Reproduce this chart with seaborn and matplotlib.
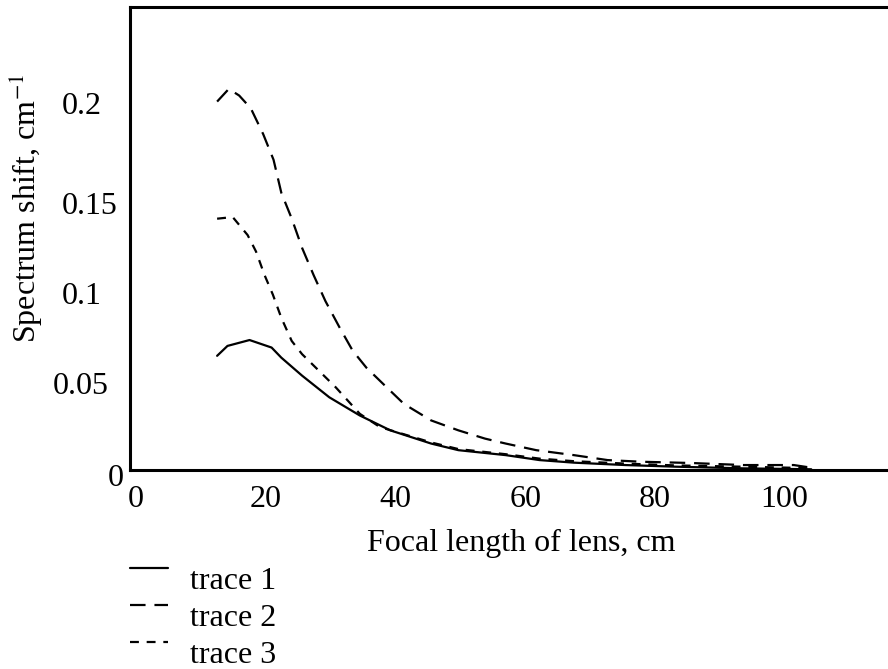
import matplotlib
matplotlib.use("Agg")
import matplotlib.pyplot as plt
import matplotlib.transforms as mtransforms
import seaborn as sns
import pandas as pd

# ---- data ----
x_t1 = [12.5, 14.1, 17.5, 20.9, 22.4, 25.6, 29.8, 34.5, 39.2, 45.5, 49.7, 57.0, 62.2, 67.5, 75.4, 83.2, 93.6, 104.1]
y_t1 = [0.0622, 0.0676, 0.0708, 0.0667, 0.0612, 0.0514, 0.0396, 0.0297, 0.0216, 0.0144, 0.0108, 0.0081, 0.0054, 0.0040, 0.0027, 0.0018, 0.0009, 0.0004]

x_t2 = [12.5, 14.3, 15.9, 17.7, 19.6, 21.2, 22.4, 24.0, 25.6, 27.4, 29.2, 31.4, 33.4, 35.5, 38.1, 41.3, 45.5, 49.7, 53.8, 57.0, 61.7, 67.5, 72.7, 77.9, 85.7, 93.6, 101.4, 104.4]
y_t2 = [0.2007, 0.2076, 0.2040, 0.1970, 0.1830, 0.1690, 0.1510, 0.1370, 0.1210, 0.1060, 0.0920, 0.0775, 0.0650, 0.0558, 0.0469, 0.0360, 0.0270, 0.0216, 0.0171, 0.0144, 0.0108, 0.0081, 0.0054, 0.0045, 0.0038, 0.0027, 0.0027, 0.0011]

x_t3 = [12.5, 14.9, 17.2, 18.5, 19.8, 21.1, 22.4, 24.0, 25.6, 27.7, 30.8, 34.5, 37.6, 45.5, 49.7, 57.0, 62.2, 67.5, 75.4, 83.2, 93.6, 104.1]
y_t3 = [0.1369, 0.1378, 0.1280, 0.1190, 0.1063, 0.0955, 0.0829, 0.0703, 0.0631, 0.0558, 0.0450, 0.0306, 0.0234, 0.0150, 0.0114, 0.0086, 0.0062, 0.0048, 0.0035, 0.0025, 0.0018, 0.0010]

trace_names = ["trace 1", "trace 2", "trace 3"]
x_ticks = [0, 20, 40, 60, 80, 100]
y_ticks = [0.05, 0.1, 0.15, 0.2]
y_tick_labels = ["0.05", "0.1", "0.15", "0.2"]

df = pd.concat([
    pd.DataFrame({"x": x_t1, "y": y_t1, "trace": trace_names[0]}),
    pd.DataFrame({"x": x_t2, "y": y_t2, "trace": trace_names[1]}),
    pd.DataFrame({"x": x_t3, "y": y_t3, "trace": trace_names[2]}),
], ignore_index=True)

sns.set_theme(style="white")
plt.rcParams["font.family"] = ["Liberation Serif", "DejaVu Serif"]
plt.rcParams["mathtext.fontset"] = "stix"
plt.rcParams["text.color"] = "black"

W, H = 888, 669
fig = plt.figure(figsize=(W / 100, H / 100), dpi=100)
ax = fig.add_axes([130 / W, 1 - 470 / H, (W - 130) / W + 0.01, (470 - 6.5) / H])

dashes = {"trace 1": "", "trace 2": (7, 4), "trace 3": (4, 3.5)}
sns.lineplot(data=df, x="x", y="y", style="trace", dashes=dashes, color="black",
             linewidth=1.6, ax=ax, sort=False, estimator=None, legend=True)

ax.set_xlim(-0.93, 117.3)
ax.set_ylim(0, 0.2525)

for s in ["left", "top", "bottom"]:
    ax.spines[s].set_linewidth(2.2)
    ax.spines[s].set_color("black")
ax.spines["right"].set_visible(False)

ax.set_xticks(x_ticks)
ax.set_xticklabels([str(v) for v in x_ticks])
ax.set_yticks(y_ticks)
ax.set_yticklabels(y_tick_labels)
ax.tick_params(axis="both", length=0, labelsize=23, colors="black", labelcolor="black")
ax.tick_params(axis="x", pad=11)
ax.tick_params(axis="y", pad=(130 - 62) * 0.72)
# small per-label nudges (pixels): (dx, dy)
nudges = [(-9, -5), (0, -6.5), (0, -8), (0, 0)]
for lab, (dx, dy) in zip(ax.get_yticklabels(), nudges):
    lab.set_horizontalalignment("left")
    off = mtransforms.ScaledTranslation(dx / 100, dy / 100, fig.dpi_scale_trans)
    lab.set_transform(lab.get_transform() + off)

ax.set_xlabel("")
ax.set_ylabel("")
fig.text(116 / W, 1 - 479 / H, "0", fontsize=23, ha="center", va="center", color="black")
fig.text(521 / W, 1 - 543 / H, "Focal length of lens, cm", fontsize=23, ha="center", va="center",
         color="black")
fig.text(26 / W, 1 - 208 / H, "Spectrum shift, cm$^{-1}$", fontsize=23, rotation=90,
         ha="center", va="center", color="black")

leg = ax.legend(loc="upper left", bbox_to_anchor=(130 / W, 1 - 567 / H), bbox_transform=fig.transFigure,
                frameon=False, fontsize=23, handlelength=1.2, handletextpad=0.68, labelspacing=0.235,
                borderaxespad=0, borderpad=0, labelcolor="black")
# in the reference the legend keys sit slightly above the text centre
for ln in leg.get_lines():
    yd = ln.get_ydata()
    ln.set_ydata([v + 7 for v in yd])

fig.savefig("out.png", dpi=100, facecolor="white")
